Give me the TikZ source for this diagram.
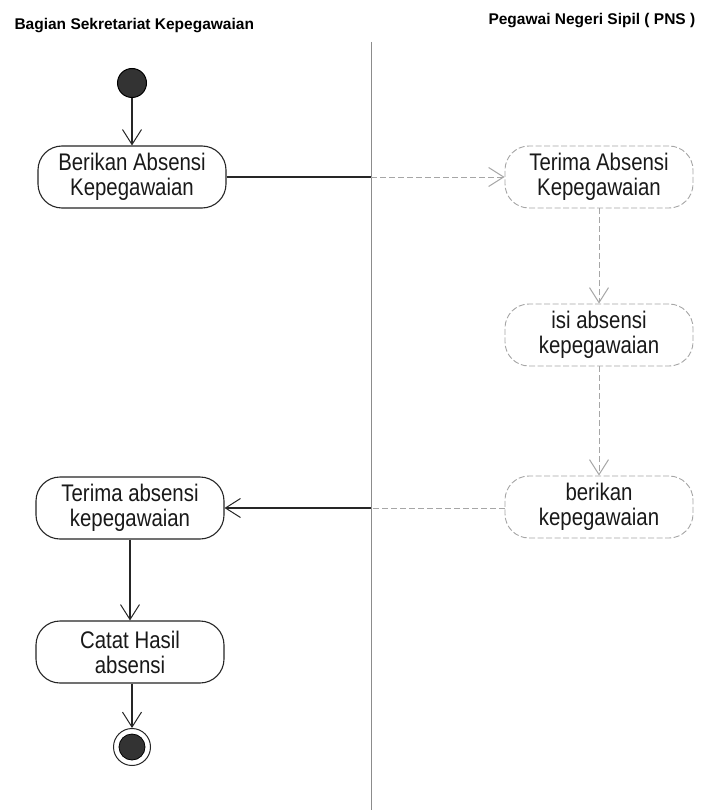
\documentclass[tikz,border=0pt]{standalone}
\usepackage{fontspec}
\setmainfont{Liberation Sans}
\newfontfamily\actfont[FakeStretch=0.85]{Liberation Sans}
\usetikzlibrary{arrows.meta}

\begin{document}
\begin{tikzpicture}[x=1pt,y=-1pt,
  action/.style={rectangle, rounded corners=24pt, minimum width=188pt,
    minimum height=62pt, align=center, inner sep=0pt, text=black!90,
    font=\actfont\fontsize{24}{25}\selectfont},
  solidact/.style={action, draw=black!85, line width=1.1pt},
  faintact/.style={action, draw=black!35, line width=0.9pt,
    dash pattern=on 6pt off 2.5pt},
  flow/.style={-{Straight Barb[length=15pt,width=19pt,line width=1pt]}},
  darkline/.style={draw=black!85, line width=1.1pt},
  faintline/.style={draw=black!35, line width=0.9pt, dash pattern=on 6pt off 3pt},
  lane/.style={font=\bfseries\fontsize{15.5}{16}\selectfont, anchor=base west},
]
\useasboundingbox[fill=white] (0,0) rectangle (701,810);

% swimlane titles and divider
\node[lane] (laneA) at (11,30) {Bagian Sekretariat Kepegawaian};
\node[lane] (laneB) at (485,25) {Pegawai Negeri Sipil ( PNS )};
\coordinate (divtop) at (371,42);
\coordinate (divbot) at (371,810);
\draw[draw=black!45, line width=1pt] (divtop) -- (divbot);

% start and end states
\node[circle, fill=black!80, draw=black, line width=1pt, minimum size=29pt, inner sep=0pt] (start) at (132,83) {};
\node[circle, draw=black!85, line width=1pt, minimum size=37pt, inner sep=0pt] (end) at (132,747) {};
\node[circle, fill=black!80, draw=black, line width=0.8pt, minimum size=26pt, inner sep=0pt] (endcore) at (end) {};

% actions
\node[solidact] (berikan) at (132,177) {Berikan Absensi\\Kepegawaian};
\node[faintact] (terimaP) at (599,177) {Terima Absensi\\Kepegawaian};
\node[faintact] (isi) at (599,335) {isi absensi\\kepegawaian};
\node[faintact] (berikanP) at (599,507) {berikan\\kepegawaian};
\node[solidact] (terimaS) at (130,508) {Terima absensi\\kepegawaian};
\node[solidact] (catat) at (130,652) {Catat Hasil\\absensi};

% lane crossings
\coordinate (cross1) at (371,177);
\coordinate (cross2) at (371,508);

% flows
\draw[darkline, flow] (start) -- (start |- berikan.north);
\draw[darkline] (berikan) -- (cross1);
\draw[faintline, flow] (cross1) -- (terimaP);
\draw[faintline, flow] (terimaP) -- (isi);
\draw[faintline, flow] (isi) -- (berikanP);
\draw[faintline] (berikanP.west |- cross2) -- (cross2);
\draw[darkline, flow] (cross2) -- (terimaS);
\draw[darkline, flow] (terimaS) -- (catat);
\draw[darkline, flow] (catat.south -| end) -- (end);
\end{tikzpicture}
\end{document}
